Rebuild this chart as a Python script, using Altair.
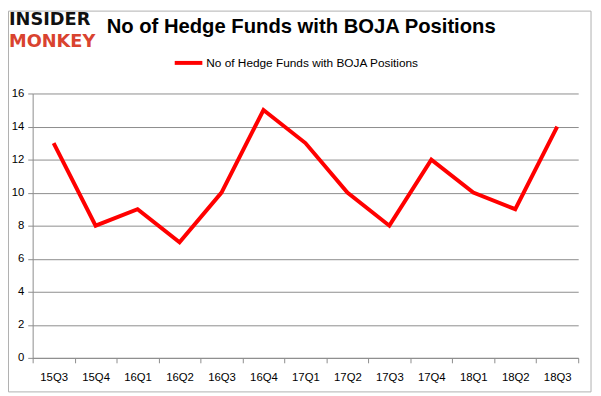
import altair as alt
import pandas as pd

quarters = ["15Q3", "15Q4", "16Q1", "16Q2", "16Q3", "16Q4", "17Q1",
            "17Q2", "17Q3", "17Q4", "18Q1", "18Q2", "18Q3"]
funds = [13, 8, 9, 7, 10, 15, 13, 10, 8, 12, 10, 9, 14]
series_name = "No of Hedge Funds with BOJA Positions"
title_text = "No of Hedge Funds with BOJA Positions"
logo_top = "INSIDER"
logo_bottom = "MONKEY"
y_ticks = [0, 2, 4, 6, 8, 10, 12, 14, 16]

df = pd.DataFrame({"quarter": quarters, "funds": funds, "series": series_name})

W, H = 553, 268
PL, PT = 25, 84
FONT = "Liberation Sans"
GRAY = "#8c8c8c"

line = alt.Chart(df).mark_line(color="#ff0000", strokeWidth=4).encode(
    x=alt.X("quarter:N", sort=quarters, bandPosition=0.5,
            scale=alt.Scale(type="band", paddingInner=0, paddingOuter=0),
            axis=alt.Axis(title=None, labelAngle=0, tickBand="extent", grid=False,
                          domainColor=GRAY, tickColor=GRAY, tickSize=5,
                          labelFont=FONT, labelFontSize=11.5, labelColor="#000",
                          labelPadding=9)),
    y=alt.Y("funds:Q", scale=alt.Scale(domain=[0, 16], nice=False),
            axis=alt.Axis(title=None, values=y_ticks, grid=True, gridColor=GRAY,
                          domainColor=GRAY, tickColor=GRAY, tickSize=5,
                          labelFont=FONT, labelFontSize=11.5, labelColor="#000",
                          labelPadding=4)),
)

leg_df = pd.DataFrame({"t": [series_name]})
legend_line = alt.Chart(leg_df).mark_rule(color="#ff0000", strokeWidth=4).encode(
    x=alt.value(144), x2=alt.value(172), y=alt.value(-31))
legend_text = alt.Chart(leg_df).mark_text(
    align="left", baseline="middle", font=FONT, fontSize=12, color="#000").encode(
    x=alt.value(176), y=alt.value(-31), text="t:N")

title_df = pd.DataFrame({"t": [title_text]})
title = alt.Chart(title_df).mark_text(
    align="left", baseline="middle", font=FONT, fontSize=20.5, fontWeight="bold",
    color="#000").encode(x=alt.value(75), y=alt.value(-67), text="t:N")

logo1 = alt.Chart(pd.DataFrame({"t": [logo_top]})).mark_text(
    align="left", baseline="middle", font="DejaVu Sans", fontSize=18,
    fontWeight="bold", color="#111").encode(x=alt.value(-24), y=alt.value(-74), text="t:N")
logo2 = alt.Chart(pd.DataFrame({"t": [logo_bottom]})).mark_text(
    align="left", baseline="middle", font="DejaVu Sans", fontSize=18,
    fontWeight="bold", color="#d9432f").encode(x=alt.value(-24), y=alt.value(-52), text="t:N")

frame = alt.Chart(leg_df).mark_rect(fill=None, stroke="#b0b0b0", strokeWidth=1).encode(
    x=alt.value(-24.5), x2=alt.value(566), y=alt.value(-83.5), y2=alt.value(302.5))

chart = alt.layer(frame, line, legend_line, legend_text, title, logo1, logo2).properties(
    width=W, height=H,
    autosize=alt.AutoSizeParams(type="none"),
    padding={"left": PL, "top": PT, "right": 15, "bottom": 36},
).configure_view(stroke=None)

chart.save("out.html", embed_options={"renderer": "svg", "actions": False})
